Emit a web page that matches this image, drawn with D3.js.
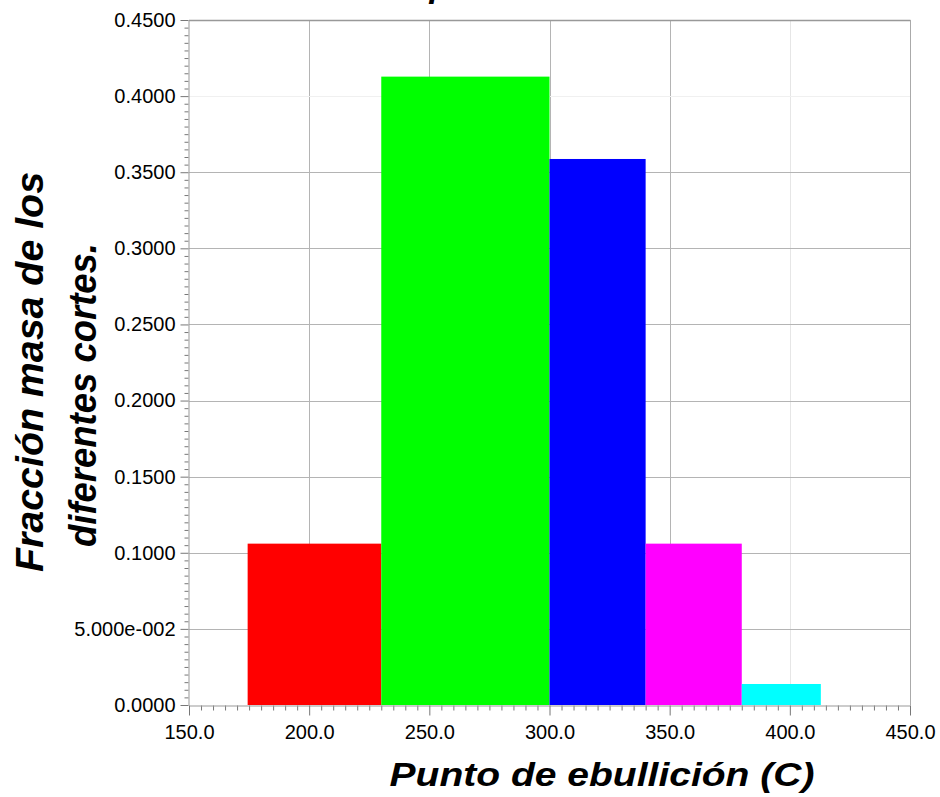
<!DOCTYPE html>
<html>
<head>
<meta charset="utf-8">
<script src="https://cdn.jsdelivr.net/npm/d3@7"></script>
<style>
  html, body { margin: 0; padding: 0; background: #fff; }
  svg { display: block; }
  text { font-family: "Liberation Sans", Arial, sans-serif; fill: #000; }
</style>
</head>
<body>
<svg id="chart" width="940" height="797"></svg>
<script>
// ---- data ----
const binStart  = [174.4, 230.0, 300.0, 340.0, 380.0];
const binEnd    = [230.0, 300.0, 340.0, 380.0, 412.9];
const fractions = [0.1060, 0.4128, 0.3587, 0.1060, 0.0138];
const barColors = ["#ff0000", "#00ff00", "#0000ff", "#ff00ff", "#00ffff"];

const xTicks = [150, 200, 250, 300, 350, 400, 450];
const xTickLabels = ["150.0", "200.0", "250.0", "300.0", "350.0", "400.0", "450.0"];
const yTicks = [0, 0.05, 0.10, 0.15, 0.20, 0.25, 0.30, 0.35, 0.40, 0.45];
const yTickLabels = ["0.0000", "5.000e-002", "0.1000", "0.1500", "0.2000", "0.2500",
                     "0.3000", "0.3500", "0.4000", "0.4500"];
const faintGridX = [400];
const faintGridY = [0.40];

const titleText = "Distribución por cortes";
const xLabel = "Punto de ebullición (C)";
const yLabelLines = ["Fracción masa de los", "diferentes cortes."];

// ---- layout ----
const L = 189, R = 910, T = 20, B = 705;
const svg = d3.select("#chart");

const x = d3.scaleLinear().domain([150, 450]).range([L, R]);
const y = d3.scaleLinear().domain([0, 0.45]).range([B, T]);

// grid
const grid = svg.append("g");
grid.selectAll("line.gx").data(xTicks.slice(1, -1)).join("line")
  .attr("x1", d => Math.round(x(d)) + 0.5).attr("x2", d => Math.round(x(d)) + 0.5)
  .attr("y1", T).attr("y2", B)
  .attr("stroke", d => faintGridX.includes(d) ? "#e6e6e6" : "#b4b4b4")
  .attr("stroke-width", 1);
grid.selectAll("line.gy").data(yTicks.slice(1, -1)).join("line")
  .attr("x1", L).attr("x2", R)
  .attr("y1", d => Math.round(y(d)) + 0.5).attr("y2", d => Math.round(y(d)) + 0.5)
  .attr("stroke", d => faintGridY.some(v => Math.abs(v - d) < 1e-9) ? "#f0f0f0" : "#b4b4b4")
  .attr("stroke-width", 1);

// bars
svg.append("g").selectAll("rect").data(fractions).join("rect")
  .attr("x", (d, i) => x(binStart[i]))
  .attr("width", (d, i) => x(binEnd[i]) - x(binStart[i]))
  .attr("y", d => y(d))
  .attr("height", d => y(0) - y(d))
  .attr("fill", (d, i) => barColors[i]);

// frame (top & right)
svg.append("line").attr("x1", L).attr("x2", R + 0.5).attr("y1", T + 0.5).attr("y2", T + 0.5)
  .attr("stroke", "#999").attr("stroke-width", 1.5);
svg.append("line").attr("x1", R + 0.5).attr("x2", R + 0.5).attr("y1", T).attr("y2", B)
  .attr("stroke", "#aaa").attr("stroke-width", 1);

// axes
function styleAxis(g) {
  g.select(".domain").attr("stroke", "#999");
  g.selectAll(".tick line").attr("stroke", "#777");
  g.selectAll(".tick text").style("font-size", "20px").attr("fill", "#111");
}

// minor ticks
const xMinor = d3.range(150, 450.01, 5).filter(v => !xTicks.includes(v));
const yMinor = d3.range(0, 0.4501, 0.005).filter(v => !yTicks.some(t => Math.abs(t - v) < 1e-9));

svg.append("g").attr("transform", `translate(0,${B + 0.5})`)
  .call(d3.axisBottom(x).tickValues(xMinor).tickSize(5).tickFormat(""))
  .call(g => { g.select(".domain").remove(); g.selectAll(".tick line").attr("stroke", "#777"); });
svg.append("g").attr("transform", `translate(${L - 0.5},0)`)
  .call(d3.axisLeft(y).tickValues(yMinor).tickSize(4).tickFormat(""))
  .call(g => { g.select(".domain").remove(); g.selectAll(".tick line").attr("stroke", "#777"); });

svg.append("g").attr("transform", `translate(0,${B + 0.5})`)
  .call(d3.axisBottom(x).tickValues(xTicks).tickSizeInner(10).tickSizeOuter(0)
        .tickPadding(9).tickFormat((d, i) => xTickLabels[i]))
  .call(styleAxis);

svg.append("g").attr("transform", `translate(${L - 0.5},0)`)
  .call(d3.axisLeft(y).tickValues(yTicks).tickSizeInner(8).tickSizeOuter(0)
        .tickPadding(5).tickFormat((d, i) => yTickLabels[i]))
  .call(styleAxis);

// axis labels
svg.append("text")
  .attr("x", 602).attr("y", 786)
  .attr("text-anchor", "middle")
  .attr("textLength", 425).attr("lengthAdjust", "spacingAndGlyphs")
  .style("font-size", "33px").style("font-weight", "bold").style("font-style", "italic")
  .text(xLabel);

const yLabelPos = [{bx: 43, cy: 372, len: 400}, {bx: 96, cy: 395, len: 304}];
yLabelLines.forEach((t, i) => {
  const p = yLabelPos[i];
  svg.append("text")
    .attr("transform", `translate(${p.bx},${p.cy}) rotate(-90)`)
    .attr("text-anchor", "middle")
    .attr("textLength", p.len).attr("lengthAdjust", "spacingAndGlyphs")
    .style("font-size", "39px").style("font-weight", "bold").style("font-style", "italic")
    .text(t);
});

// title (cut off above the top edge, only a descender shows)
const tPre = "Distribución ";
const tmp = svg.append("text").style("font-size", "34px").style("font-weight", "bold")
  .style("font-style", "italic").text(tPre);
const preW = tmp.node().getComputedTextLength();
tmp.remove();
svg.append("text")
  .attr("x", 420 - preW).attr("y", -3)
  .style("font-size", "34px").style("font-weight", "bold").style("font-style", "italic")
  .text(titleText);
</script>
</body>
</html>
